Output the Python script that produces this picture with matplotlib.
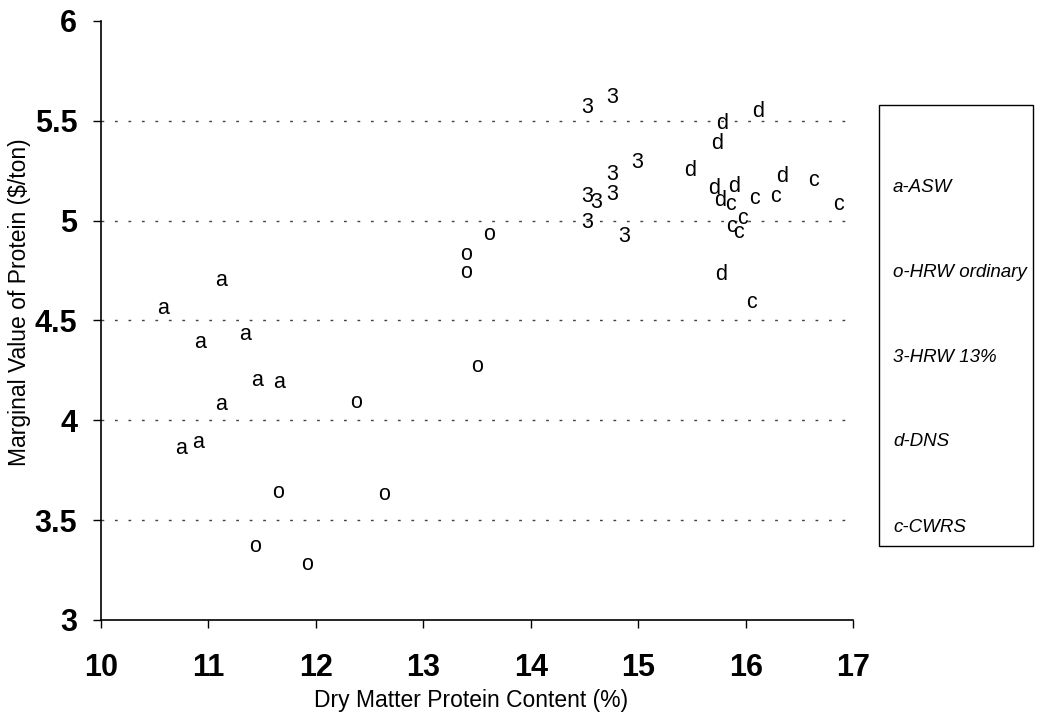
import matplotlib.pyplot as plt
from matplotlib.patches import Rectangle

plt.rcParams['font.family'] = ['Liberation Sans', 'DejaVu Sans']

# protein content (%) and marginal value ($/ton) by wheat class
asw_x = [11.12, 10.58, 10.92, 11.34, 11.45, 11.66, 11.12, 10.75, 10.90]
asw_y = [4.70, 4.56, 4.39, 4.43, 4.20, 4.19, 4.08, 3.86, 3.89]

hrw_ord_x = [12.37, 11.65, 12.63, 11.43, 11.92, 13.61, 13.40, 13.40, 13.50]
hrw_ord_y = [4.09, 3.64, 3.63, 3.37, 3.28, 4.93, 4.83, 4.74, 4.27]

hrw13_x = [14.52, 14.76, 14.99, 14.76, 14.76, 14.52, 14.61, 14.52, 14.87]
hrw13_y = [5.58, 5.63, 5.30, 5.24, 5.14, 5.13, 5.10, 5.00, 4.93]

dns_x = [16.12, 15.78, 15.73, 15.48, 16.34, 15.71, 15.89, 15.76, 15.77]
dns_y = [5.56, 5.50, 5.40, 5.26, 5.23, 5.17, 5.18, 5.11, 4.74]

cwrs_x = [16.63, 16.08, 16.28, 16.86, 15.86, 15.97, 15.87, 15.93, 16.05]
cwrs_y = [5.20, 5.11, 5.12, 5.08, 5.08, 5.01, 4.97, 4.94, 4.59]

series = [
    ('a', asw_x, asw_y),
    ('o', hrw_ord_x, hrw_ord_y),
    ('3', hrw13_x, hrw13_y),
    ('d', dns_x, dns_y),
    ('c', cwrs_x, cwrs_y),
]
legend_labels = ['a-ASW', 'o-HRW ordinary', '3-HRW 13%', 'd-DNS', 'c-CWRS']

x_ticks = [10, 11, 12, 13, 14, 15, 16, 17]
y_ticks = [3, 3.5, 4, 4.5, 5, 5.5, 6]
y_tick_labels = ['3', '3.5', '4', '4.5', '5', '5.5', '6']

MARK_SIZE = 15.5
TICK_SIZE = 22
LABEL_SIZE = 16.5
# letters with ascenders sit higher, so drop them a bit more to center them
tall = {'3', 'd'}

fig = plt.figure(figsize=(10.55, 7.18), dpi=100)
ax = fig.add_axes([0.0957, 0.1365, 0.713, 0.8343])

for letter, xs, ys in series:
    drop = 0.36 * MARK_SIZE if letter in tall else 0.26 * MARK_SIZE
    for x, y in zip(xs, ys):
        ax.annotate(letter, (x, y), xytext=(0, -drop), textcoords='offset points',
                    ha='center', va='baseline', fontsize=MARK_SIZE)

for level in y_ticks[1:-1]:
    ax.axhline(level, color='#444444', lw=1.0, linestyle=(0, (2, 7.7)), zorder=0)

ax.set_xlim(10, 17)
ax.set_ylim(3, 6)
ax.set_xticks(x_ticks)
ax.set_xticklabels([str(t) for t in x_ticks], fontsize=TICK_SIZE, fontweight='bold')
ax.set_yticks(y_ticks)
ax.set_yticklabels(y_tick_labels, fontsize=TICK_SIZE, fontweight='bold')
ax.tick_params(axis='both', direction='out', length=6, width=1, color='black')
ax.tick_params(axis='y', pad=11)
ax.tick_params(axis='x', pad=18)

for side in ['top', 'right']:
    ax.spines[side].set_visible(False)
for side in ['left', 'bottom']:
    ax.spines[side].set_linewidth(1.2)

ax.set_xlabel('Dry Matter Protein Content (%)', fontsize=LABEL_SIZE)
ax.set_ylabel('Marginal Value of Protein ($/ton)', fontsize=LABEL_SIZE)
ax.xaxis.set_label_coords(0.492, -0.115)
ax.yaxis.set_label_coords(-0.093, 0.53)

# boxed key on the right
box_left, box_bottom, box_w, box_h = 879 / 1055, 1 - 546 / 718, 154 / 1055, 441 / 718
fig.patches.append(Rectangle((box_left, box_bottom), box_w, box_h, transform=fig.transFigure,
                             fill=False, edgecolor='black', lw=1.0))
for i, label in enumerate(legend_labels):
    fig.text(893 / 1055, 1 - (187 + 85 * i) / 718, label, fontsize=13.5, style='italic',
             va='center', ha='left')

fig.savefig('out.png', dpi=100)
